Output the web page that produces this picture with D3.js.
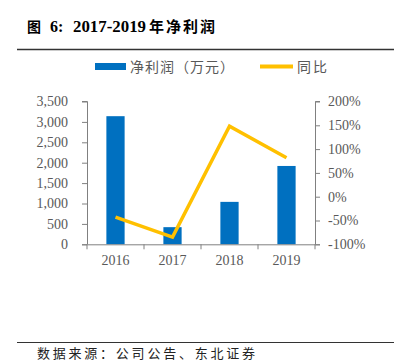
<!DOCTYPE html>
<html>
<head>
<meta charset="utf-8">
<script src="https://cdn.jsdelivr.net/npm/d3@7"></script>
<style>
  body { margin: 0; background: #fff; }
  svg { display: block; }
  .tick text { font-family: "Liberation Serif", "Times New Roman", serif; font-size: 14px; fill: #595959; }
</style>
</head>
<body>
<div id="chart"></div>
<script>
'use strict';

// data
const years = ['2016', '2017', '2018', '2019'];
const profit = [3140, 420, 1040, 1920];      // 净利润（万元）
const growth = [-43, -85, 148, 82];          // 同比 %
const leftTicks = [0, 500, 1000, 1500, 2000, 2500, 3000, 3500];
const rightTicks = [-100, -50, 0, 50, 100, 150, 200];

(function() {
  const width = 401, height = 361;
  const axisColor = '#808080';
  const blue = '#0070C0', yellow = '#FFC000';
  const cjk = '"Noto Sans CJK SC", "Noto Sans", sans-serif';
  const serif = '"Liberation Serif", "Times New Roman", serif';

  const svg = d3.select('#chart')
    .append('svg')
    .attr('width', width)
    .attr('height', height);

  // Title, pieces placed like the original
  const title = svg.append('g').attr('font-weight', 'bold').attr('fill', '#000');
  title.append('text').attr('x', 27).attr('y', 32).attr('font-family', cjk).attr('font-size', 14).text('图');
  title.append('text').attr('x', 50).attr('y', 32).attr('font-family', serif).attr('font-size', 16).text('6:');
  title.append('text').attr('x', 73).attr('y', 32).attr('font-family', serif).attr('font-size', 16)
    .attr('textLength', 73).attr('lengthAdjust', 'spacingAndGlyphs').text('2017-2019');
  title.append('text').attr('x', 149).attr('y', 32).attr('font-family', cjk).attr('font-size', 15)
    .attr('textLength', 66).attr('lengthAdjust', 'spacing').text('年净利润');

  svg.append('line')
    .attr('x1', 17).attr('x2', 394)
    .attr('y1', 49.5).attr('y2', 49.5)
    .attr('stroke', '#333').attr('stroke-width', 1.5);

  // Legend
  const legend = svg.append('g').attr('font-family', cjk).attr('font-size', 14).attr('fill', '#595959');
  legend.append('rect').attr('x', 95).attr('y', 63).attr('width', 31).attr('height', 7).attr('fill', blue);
  legend.append('text').attr('x', 130).attr('y', 71.5)
    .attr('textLength', 104).attr('lengthAdjust', 'spacing').text('净利润（万元）');
  legend.append('line').attr('x1', 260).attr('x2', 293).attr('y1', 66.5).attr('y2', 66.5)
    .attr('stroke', yellow).attr('stroke-width', 4);
  legend.append('text').attr('x', 297).attr('y', 71.5)
    .attr('textLength', 30).attr('lengthAdjust', 'spacing').text('同比');

  // Scales
  const x = d3.scaleBand()
    .domain(years)
    .range([87, 315])
    .paddingInner(0.68)
    .paddingOuter(0.34);

  const yL = d3.scaleLinear().domain([0, 3500]).range([244.3, 101.5]);
  const yR = d3.scaleLinear().domain([-100, 200]).range([244.3, 101.5]);

  // Bars
  svg.append('g')
    .selectAll('rect')
    .data(profit)
    .enter()
    .append('rect')
    .attr('x', (d, i) => x(years[i]))
    .attr('width', x.bandwidth())
    .attr('y', d => yL(d))
    .attr('height', d => yL(0) - yL(d))
    .attr('fill', blue);

  // Left axis
  const leftAxis = svg.append('g')
    .attr('transform', 'translate(87,0)')
    .call(d3.axisLeft(yL).tickValues(leftTicks).tickFormat(d3.format(',')).tickSize(5).tickPadding(14));

  // Right axis
  const rightAxis = svg.append('g')
    .attr('transform', 'translate(315,0)')
    .call(d3.axisRight(yR).tickValues(rightTicks).tickFormat(d => d + '%').tickSize(5).tickPadding(8));

  // Bottom axis: labels at band centres, ticks on the boundaries
  const bottomAxis = svg.append('g')
    .attr('transform', 'translate(0,244.3)')
    .call(d3.axisBottom(x).tickSize(0).tickPadding(11));

  const step = x.step();
  const bounds = d3.range(years.length + 1).map(i => x.range()[0] + i * step);
  bottomAxis.selectAll('.bound')
    .data(bounds)
    .enter()
    .append('line')
    .attr('class', 'bound')
    .attr('x1', d => d).attr('x2', d => d)
    .attr('y1', 0).attr('y2', 5)
    .attr('stroke', axisColor);

  bottomAxis.select('.domain').attr('d', 'M82,0.5H320');

  [leftAxis, rightAxis, bottomAxis].forEach(a => {
    a.selectAll('.domain').attr('stroke', axisColor);
    a.selectAll('.tick line').attr('stroke', axisColor);
  });
  leftAxis.select('.domain').attr('d', 'M-5,101.5H0.5V244.3');
  rightAxis.select('.domain').attr('d', 'M5,101.5H0.5V244.3');

  // Growth line
  const line = d3.line()
    .x((d, i) => x(years[i]) + x.bandwidth() / 2)
    .y(d => yR(d));

  svg.append('path')
    .datum(growth)
    .attr('d', line)
    .attr('fill', 'none')
    .attr('stroke', yellow)
    .attr('stroke-width', 3.5);

  // Footer
  svg.append('line')
    .attr('x1', 17).attr('x2', 394)
    .attr('y1', 342.5).attr('y2', 342.5)
    .attr('stroke', '#333').attr('stroke-width', 1.2);

  svg.append('text')
    .attr('x', 37)
    .attr('y', 358)
    .attr('font-family', cjk)
    .attr('font-size', 13)
    .attr('fill', '#222')
    .attr('textLength', 218)
    .attr('lengthAdjust', 'spacing')
    .text('数据来源：公司公告、东北证券');
})();
</script>
</body>
</html>
